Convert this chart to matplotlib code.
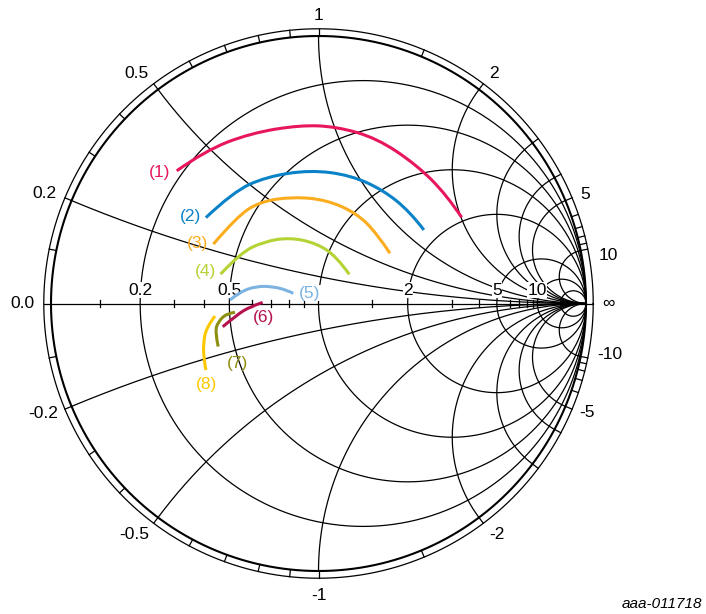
import numpy as np
import matplotlib
matplotlib.use("Agg")
import matplotlib.pyplot as plt
from matplotlib.path import Path
from matplotlib.patches import PathPatch

plt.rcParams['font.family'] = ['Liberation Sans', 'DejaVu Sans']

# Smith chart grid values
r_circles = [0.2, 0.5, 1, 2, 5, 10, 20]
x_arcs = [0.2, 0.5, 1, 2, 3, 4, 5, 10]
rim_ticks = [0.1, 0.2, 0.3, 0.4, 0.5, 0.6, 0.7, 0.8, 0.9, 1, 1.5, 2, 3, 4, 5, 6, 7, 8, 9, 10]
axis_ticks = [0.1, 0.3, 0.4, 0.6, 0.7, 0.8, 0.9, 1.5, 3, 4, 6, 7, 8, 9]
axis_labels = ['0.2', '0.5', '2', '5', '10']
axis_label_values = [0.2, 0.5, 2, 5, 10]
rim_labels = ['1', '0.5', '0.2', '2', '5', '10', '-10', '-5', '-2', '-1', '-0.5', '-0.2', '0.0', '\u221e']

# measured curves, reflection coefficient (re, im)
c1_re = [-0.530, -0.424, -0.256, -0.069, 0.068, 0.218, 0.367, 0.479, 0.535]
c1_im = [0.496, 0.571, 0.636, 0.667, 0.661, 0.618, 0.518, 0.406, 0.322]
c2_re = [-0.421, -0.319, -0.194, -0.032, 0.118, 0.242, 0.342, 0.394]
c2_im = [0.321, 0.418, 0.474, 0.499, 0.480, 0.424, 0.343, 0.275]
c3_re = [-0.393, -0.306, -0.219, -0.094, 0.031, 0.143, 0.218, 0.267]
c3_im = [0.222, 0.324, 0.381, 0.399, 0.387, 0.337, 0.262, 0.188]
c4_re = [-0.366, -0.293, -0.206, -0.107, -0.007, 0.068, 0.115]
c4_im = [0.110, 0.188, 0.231, 0.247, 0.225, 0.175, 0.109]
c5_re = [-0.331, -0.293, -0.231, -0.169, -0.119, -0.094]
c5_im = [0.013, 0.044, 0.065, 0.063, 0.050, 0.038]
c6_re = [-0.358, -0.306, -0.256, -0.209]
c6_im = [-0.087, -0.043, -0.012, 0.004]
c7_re = [-0.312, -0.343, -0.375, -0.387, -0.375]
c7_im = [-0.033, -0.037, -0.068, -0.105, -0.161]
c8_re = [-0.387, -0.418, -0.431, -0.428, -0.421]
c8_im = [-0.047, -0.087, -0.149, -0.211, -0.249]

curve_names = ['(1)', '(2)', '(3)', '(4)', '(5)', '(6)', '(7)', '(8)']
curve_colors = ['#e8175d', '#0a82c8', '#fbad1f', '#b4d335', '#7cb3e1', '#b5114f', '#8d8f10', '#fdc800']
curves = [(c1_re, c1_im), (c2_re, c2_im), (c3_re, c3_im), (c4_re, c4_im),
          (c5_re, c5_im), (c6_re, c6_im), (c7_re, c7_im), (c8_re, c8_im)]

# label placement (layout only)
rim_pos = [(0.0, 1.078), (-0.68, 0.858), (-1.025, 0.413), (0.655, 0.858), (0.998, 0.406),
           (1.083, 0.181), (1.09, -0.189), (1.005, -0.407), (0.666, -0.862), (0.0, -1.09),
           (-0.69, -0.862), (-1.03, -0.413), (-1.105, 0.0), (1.083, 0.0)]
name_pos = [(-0.594, 0.488), (-0.480, 0.324), (-0.453, 0.225), (-0.424, 0.119),
            (-0.032, 0.038), (-0.206, -0.052), (-0.302, -0.224), (-0.418, -0.301)]

RING = 1.027
lw_grid = 0.9


def gamma(z):
    return (z - 1) / (z + 1)


def smooth_path(xs, ys):
    pts = np.column_stack([xs, ys])
    verts = [pts[0]]
    codes = [Path.MOVETO]
    for i in range(1, len(pts) - 1):
        end = pts[-1] if i == len(pts) - 2 else (pts[i] + pts[i + 1]) / 2
        verts += [pts[i], end]
        codes += [Path.CURVE3, Path.CURVE3]
    if len(pts) == 2:
        verts.append(pts[1])
        codes.append(Path.LINETO)
    return Path(verts, codes)


fig = plt.figure(figsize=(7.06, 6.14), dpi=100)
ax = fig.add_axes([0, 0, 1, 1])
ax.set_xlim(-318.5 / 267.5, (706 - 318.5) / 267.5)
ax.set_ylim(-(614 - 303.5) / 267.5, 303.5 / 267.5)
ax.axis('off')

t = np.linspace(0, 2 * np.pi, 721)
# unit circle and outer ring
ax.plot(np.cos(t), np.sin(t), color='black', lw=1.5)
ax.plot(RING * np.cos(t), RING * np.sin(t), color='black', lw=lw_grid)

# resistance circles
for r in r_circles:
    c = r / (1 + r)
    rad = 1 / (1 + r)
    ax.plot(c + rad * np.cos(t), rad * np.sin(t), color='black', lw=lw_grid)

# reactance arcs
rr = np.concatenate([[0], np.geomspace(1e-3, 1e4, 800)])
for x in x_arcs:
    for s in (1, -1):
        g = gamma(rr + 1j * s * x)
        ax.plot(g.real, g.imag, color='black', lw=lw_grid)

# real axis
ax.plot([-RING, RING], [0, 0], color='black', lw=lw_grid)
for r in axis_ticks:
    g = gamma(r)
    ax.plot([g, g], [-0.013, 0.013], color='black', lw=lw_grid)

# ticks on the rim band
for x in rim_ticks:
    for s in (1, -1):
        g = gamma(1j * s * x)
        ang = np.angle(g)
        ax.plot([np.cos(ang), RING * np.cos(ang)], [np.sin(ang), RING * np.sin(ang)],
                color='black', lw=lw_grid)

# labels
for lab, v in zip(axis_labels, axis_label_values):
    ax.text(gamma(v), 0.05, lab, fontsize=12.5, ha='center', va='center',
            bbox=dict(facecolor='white', edgecolor='none', pad=0.3), zorder=3)
for lab, (px, py) in zip(rim_labels, rim_pos):
    ax.text(px, py, lab, fontsize=12.5, ha='center', va='center')

# measured curves
for (xs, ys), col, name, (lx, ly) in zip(curves, curve_colors, curve_names, name_pos):
    ax.add_patch(PathPatch(smooth_path(xs, ys), facecolor='none', edgecolor=col,
                           lw=2.2, capstyle='butt', zorder=4))
    bb = dict(facecolor='white', edgecolor='none', pad=0.2) if name == '(5)' else None
    ax.text(lx, ly, name, color=col, fontsize=12.5, ha='center', va='center',
            bbox=bb, zorder=5)

fig.text(0.994, 0.017, 'aaa-011718', fontsize=11, style='italic', ha='right', va='center')

fig.savefig('out.png', dpi=100)
